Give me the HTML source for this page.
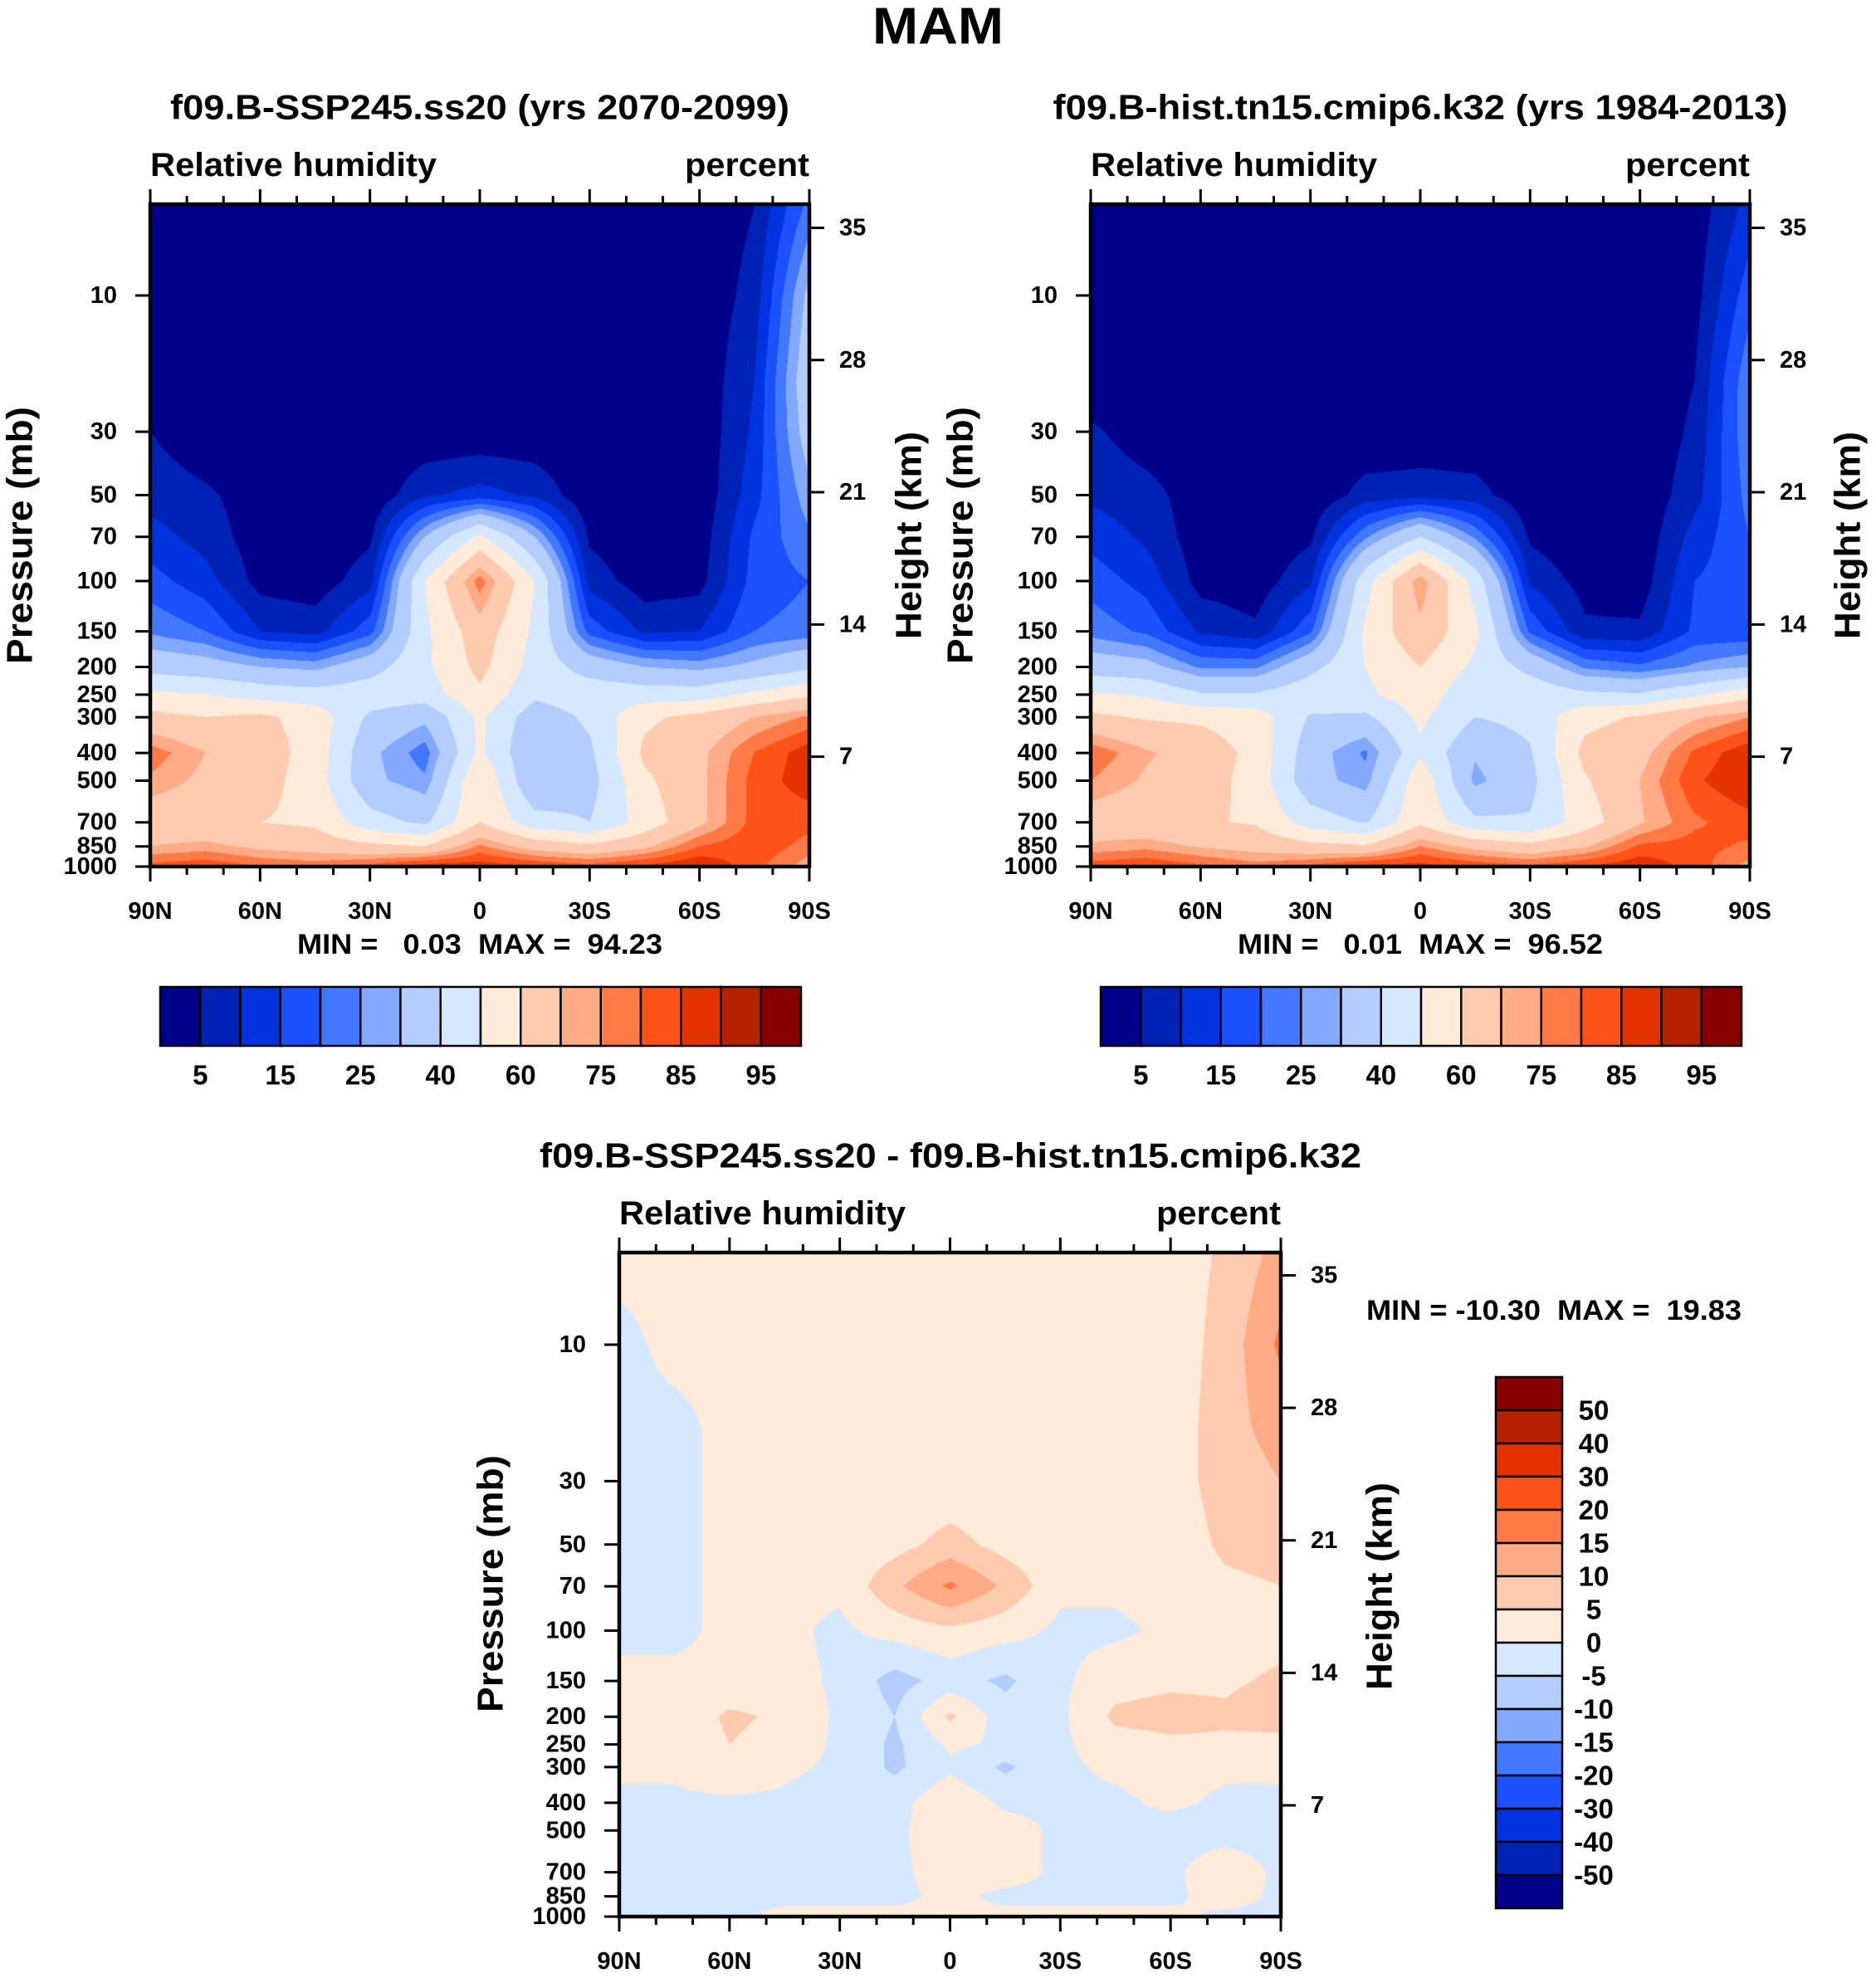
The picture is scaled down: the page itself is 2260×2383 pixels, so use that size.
<!DOCTYPE html>
<html><head><meta charset="utf-8"><title>MAM Relative humidity</title>
<style>
html,body{margin:0;padding:0;background:#fff;}
#wrap{position:relative;width:2260px;height:2383px;overflow:hidden;}
canvas{position:absolute;}
svg{position:absolute;left:0;top:0;}
text{font-family:"Liberation Sans",sans-serif;font-weight:bold;fill:#000;}
</style></head>
<body>
<div id="wrap">
<canvas id="c1"></canvas>
<canvas id="c2"></canvas>
<canvas id="c3"></canvas>
<svg id="svg" width="2260" height="2383"></svg>
</div>
<script>
// ---- data ----
const lats = [90,75,60,45,30,15,0,-15,-30,-45,-60,-75,-90];
const levels = [5,10,20,30,50,70,100,150,200,250,300,400,500,700,850,1000];
const sspValues = [
[1,1,1,1,1,1,1,1,1,1,1,5,22],
[1,1,1,1,1,1,1,1,1,1,1,7,32],
[1,1,1,1,1,1,1,1,1,1,1,10,36],
[5,1,1,1,1,1,1,1,1,1,1,11,34],
[8,6,2,1,1,9,12,9,1,1,1,13,28],
[12,8,2,1,4,30,52,30,4,1,2,16,24],
[17,12,3,2,8,50,78,50,8,2,3,17,20],
[24,20,10,8,18,48,66,48,18,9,10,20,22],
[36,34,30,28,36,48,63,46,36,30,28,32,38],
[52,50,46,44,46,45,58,42,46,45,45,52,58],
[63,60,62,56,38,32,52,34,42,58,63,70,76],
[78,70,65,56,32,22,52,30,38,62,68,80,88],
[74,68,64,55,32,26,60,30,36,58,68,82,88],
[64,62,60,58,44,38,60,44,40,54,68,82,82],
[70,72,68,66,62,60,76,66,62,68,80,84,78],
[82,84,80,78,82,88,88,85,82,86,90,82,72]];
const histValues = [
[1,1,1,1,1,1,1,1,1,1,1,2,12],
[1,1,1,1,1,1,1,1,1,1,1,3,18],
[1,1,1,1,1,1,1,1,1,1,1,5,24],
[6,2,1,1,1,1,1,1,1,1,1,6,24],
[9,7,2,1,1,7,8,7,1,1,1,8,22],
[13,9,2,1,4,24,40,24,4,1,1,12,20],
[18,13,3,2,9,46,74,46,9,3,2,15,18],
[23,19,9,6,19,52,68,52,19,6,6,16,16],
[35,33,24,24,37,50,60,48,37,24,21,26,30],
[51,49,41,41,47,48,56,42,47,42,41,48,56],
[62,59,58,55,39,38,52,40,43,57,61,69,75],
[79,71,66,57,34,24,48,31,39,63,67,81,89],
[75,69,65,56,33,27,57,28,37,59,70,84,90],
[65,63,61,59,45,39,58,42,41,55,69,79,83],
[71,73,69,67,63,61,75,67,63,69,81,82,79],
[83,85,81,77,81,87,87,84,81,85,89,83,73]];
const diffValues = [
[1,1,1,1,1,1,1,1,1,1,2,6,12],
[-1,1,1,1,1,1,1,1,1,1,2,7,16],
[-1,-1,1,1,1,1,1,1,1,1,2,8,12],
[-1,-1,1,1,1,1,1,1,1,1,3,7,10],
[-1,-1,1,1,1,3,7,3,1,1,2,6,7],
[-1,-1,1,1,1,9,16,9,1,1,2,4,5],
[-1,-1,1,1,-1,2,4,2,-1,-1,1,2,3],
[1,1,1,2,-1,-7,-3,-6,-1,3,4,4,6],
[1,1,6,4,-1,-5,6,-3,-1,6,7,6,9],
[1,1,5,3,-1,-6,1,-1,-1,3,4,4,2],
[1,1,4,1,-1,-6,-1,-6,-1,1,2,1,1],
[-1,-1,-1,-1,-2,-2,4,-1,-1,-1,1,-1,-1],
[-1,-1,-1,-1,-1,-1,3,2,-1,-1,-2,-2,-2],
[-1,-1,-1,-1,-1,-1,2,2,-1,-1,-1,3,-1],
[-1,-1,-1,-1,-1,-1,1,-1,-1,-1,-1,2,-1],
[-1,-1,-1,1,1,1,1,1,1,1,1,-1,-1]];
const rhBounds = [5,10,15,20,25,30,40,50,60,70,75,80,85,90,95];
const diffBounds = [-50,-40,-30,-20,-15,-10,-5,0,5,10,15,20,30,40,50];
const rhTickLabels = ["5","15","25","40","60","75","85","95"];
const diffTickLabels = ["50","40","30","20","15","10","5","0","-5","-10","-15","-20","-30","-40","-50"];
const pTicks = [10,30,50,70,100,150,200,250,300,400,500,700,850,1000];
const hTicks = [35,28,21,14,7];
const latLabels = ["90N","60N","30N","0","30S","60S","90S"];
const colors = ["#00008a","#0022b4","#0032e0","#1a50ff","#4278ff","#82a8ff","#b4cdff","#d6e8ff","#ffebd9","#ffcbb0","#ffab85","#ff7a46","#ff5219","#e23300","#b52200","#880000"];

const svg = document.getElementById('svg');
const NS = 'http://www.w3.org/2000/svg';
function mk(tag, attrs, parent){const e=document.createElementNS(NS,tag);for(const k in attrs)e.setAttribute(k,attrs[k]);(parent||svg).appendChild(e);return e;}
function txt(s,x,y,size,anchor,name,extra){const a=Object.assign({x:x,y:y,'font-size':size,'text-anchor':anchor||'middle','dominant-baseline':'central'},extra||{});
if(a.textLength)a.lengthAdjust='spacingAndGlyphs';
const t=mk('text',a);t.textContent=s;


return t;}
function hexRgb(h){return [parseInt(h.substr(1,2),16),parseInt(h.substr(3,2),16),parseInt(h.substr(5,2),16)];}
const rgb = colors.map(hexRgb);
const lnTop = Math.log(4.79);
const lnBot = Math.log(1000);

function drawField(cid, L, R, T, B, vals, bounds){
  const c=document.getElementById(cid);
  const W=R-L,H=B-T;
  c.width=W;c.height=H;c.style.left=L+'px';c.style.top=T+'px';
  const ctx=c.getContext('2d');
  const img=ctx.createImageData(W,H);
  const lnLev=levels.map(Math.log);
  for(let y=0;y<H;y++){
    const lp=lnTop+(lnBot-lnTop)*y/(H-1);
    let r=0; while(r<lnLev.length-2 && lp>lnLev[r+1]) r++;
    let fy=(lp-lnLev[r])/(lnLev[r+1]-lnLev[r]); fy=Math.max(0,Math.min(1,fy));
    for(let x=0;x<W;x++){
      const gi=(x/(W-1))*(lats.length-1);
      let i=Math.min(lats.length-2,Math.floor(gi)); const fx=gi-i;
      const v=(vals[r][i]*(1-fx)+vals[r][i+1]*fx)*(1-fy)+(vals[r+1][i]*(1-fx)+vals[r+1][i+1]*fx)*fy;
      let k=0; while(k<bounds.length && v>=bounds[k]) k++;
      const col=rgb[k], o=(y*W+x)*4;
      img.data[o]=col[0];img.data[o+1]=col[1];img.data[o+2]=col[2];img.data[o+3]=255;
    }
  }
  ctx.putImageData(img,0,0);
}

function axes(L,R,T,B,h10y,h35y,h7y,pre){
  const g=mk('g',{});
  
  
  mk('rect',{x:L,y:T,width:R-L,height:B-T,fill:'none',stroke:'#000','stroke-width':4.5},g);
  const perLn=(B-h10y)/Math.log(100);
  for(let d=0;d<=180;d+=10){
    const x=L+(R-L)*d/180, major=d%30===0, len=major?18:10;
    mk('line',{x1:x,y1:T,x2:x,y2:T-len,stroke:'#000','stroke-width':3},g);
    mk('line',{x1:x,y1:B,x2:x,y2:B+len,stroke:'#000','stroke-width':3},g);
  }
  latLabels.forEach((s,i)=>txt(s,L+(R-L)*i/6,B+54,29,'middle',pre+'-lat-label'));
  pTicks.forEach(p=>{const y=B-Math.log(1000/p)*perLn;
    mk('line',{x1:L,y1:y,x2:L-18,y2:y,stroke:'#000','stroke-width':3},g);
    txt(String(p),L-40,y,29,'end',pre+'-pressure-tick-label');});
  hTicks.forEach(h=>{const y=h7y+(h35y-h7y)*(h-7)/28;
    mk('line',{x1:R,y1:y,x2:R+18,y2:y,stroke:'#000','stroke-width':3},g);
    txt(String(h),R+36,y,29,'start',pre+'-height-tick-label');});
  txt('Relative humidity',L,T-47,40,'start',pre+'-variable-label',{textLength:345});
  txt('percent',R,T-47,40,'end',pre+'-units-label',{textLength:150});
}

function hbar(L,T,pre){
  const w=(965-193)/16;
  colors.forEach((c,i)=>{const r=mk('rect',{x:L+i*w,y:T,width:w,height:71,fill:c,stroke:'#000','stroke-width':2.5});
    
    });
  rhTickLabels.forEach((s,i)=>txt(s,L+w*(2*i+1),T+106,33,'middle',pre+'-colorbar-label'));
}

// Title
txt('MAM',1130,32,62,'middle','main-title',{textLength:158});

// Panel 1
drawField('c1',181,975,246,1044,sspValues,rhBounds);
axes(181,975,246,1044,356,274.5,911.6,'panel1');
txt('f09.B-SSP245.ss20 (yrs 2070-2099)',578,129,42,'middle','panel1-title',{textLength:746});
txt('Pressure (mb)',0,0,44,'middle','panel1-y-axis-title',{transform:'translate(24,645) rotate(-90)',textLength:310});
txt('Height (km)',0,0,44,'middle','panel1-right-axis-title',{transform:'translate(1095,645) rotate(-90)',textLength:250});
txt('MIN =   0.03  MAX =  94.23',578,1138,34,'middle','panel1-min-max',{style:'white-space:pre',textLength:440});
hbar(193,1189,'panel1');

// Panel 2
drawField('c2',1314,2108,246,1044,histValues,rhBounds);
axes(1314,2108,246,1044,356,274.5,911.6,'panel2');
txt('f09.B-hist.tn15.cmip6.k32 (yrs 1984-2013)',1711,129,42,'middle','panel2-title',{textLength:885});
txt('Pressure (mb)',0,0,44,'middle','panel2-y-axis-title',{transform:'translate(1157,645) rotate(-90)',textLength:310});
txt('Height (km)',0,0,44,'middle','panel2-right-axis-title',{transform:'translate(2226,645) rotate(-90)',textLength:250});
txt('MIN =   0.01  MAX =  96.52',1711,1138,34,'middle','panel2-min-max',{style:'white-space:pre',textLength:440});
hbar(1326,1189,'panel2');

// Panel 3
drawField('c3',746,1543,1509,2309,diffValues,diffBounds);
axes(746,1543,1509,2309,1620,1536.5,2175,'panel3');
txt('f09.B-SSP245.ss20 - f09.B-hist.tn15.cmip6.k32',1145,1392,42,'middle','panel3-title',{textLength:990});
txt('Pressure (mb)',0,0,44,'middle','panel3-y-axis-title',{transform:'translate(591,1908) rotate(-90)',textLength:310});
txt('Height (km)',0,0,44,'middle','panel3-right-axis-title',{transform:'translate(1662,1911) rotate(-90)',textLength:250});
txt('MIN = -10.30  MAX =  19.83',1646,1579,34,'start','panel3-min-max',{style:'white-space:pre',textLength:452});
// vertical colorbar
(function(){const T=1659,h=40,L=1802,w=80;
  for(let i=0;i<16;i++){const r=mk('rect',{x:L,y:T+i*h,width:w,height:h,fill:colors[15-i],stroke:'#000','stroke-width':2.5});
    
    }
  diffTickLabels.forEach((s,i)=>txt(s,1920,T+h*(i+1),33,'middle','panel3-colorbar-label'));
})();
</script>
</body></html>
